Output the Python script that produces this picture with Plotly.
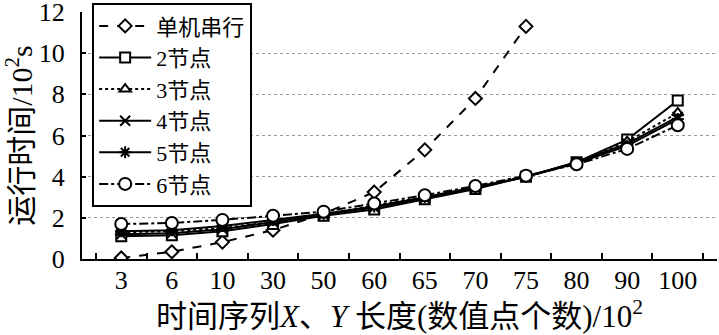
import plotly.graph_objects as go

categories = ["3", "6", "10", "30", "50", "60", "65", "70", "75", "80", "90", "100"]
serial_cats = ["3", "6", "10", "30", "50", "60", "65", "70", "75"]
serial = [0.05, 0.35, 0.82, 1.4, 2.2, 3.25, 5.3, 7.8, 11.3]
node2 = [1.1, 1.15, 1.35, 1.7, 2.1, 2.4, 2.9, 3.4, 4.0, 4.7, 5.8, 7.7]
node3 = [1.3, 1.35, 1.5, 1.8, 2.15, 2.6, 3.0, 3.45, 4.0, 4.65, 5.7, 7.1]
node4 = [1.2, 1.25, 1.45, 1.8, 2.15, 2.5, 2.95, 3.45, 4.0, 4.7, 5.6, 6.9]
node5 = [1.35, 1.4, 1.6, 1.9, 2.2, 2.55, 3.0, 3.5, 4.0, 4.65, 5.5, 6.8]
node6 = [1.7, 1.75, 1.9, 2.1, 2.3, 2.7, 3.1, 3.55, 4.05, 4.6, 5.35, 6.5]
names = ["单机串行", "2节点", "3节点", "4节点", "5节点", "6节点"]
y_ticks = [0, 2, 4, 6, 8, 10, 12]

FONT = "serif, Noto Sans CJK SC"

series = [
    (serial_cats, serial, names[0], "dash", "diamond"),
    (categories, node2, names[1], "solid", "square"),
    (categories, node3, names[2], "dot", "triangle-up"),
    (categories, node4, names[3], "solid", "x-thin-open"),
    (categories, node5, names[4], "solid", "asterisk-open"),
    (categories, node6, names[5], "dashdot", "circle"),
]

fig = go.Figure()
for xs, ys, name, dash, sym in series:
    open_sym = sym.endswith("-open")
    fig.add_trace(go.Scatter(
        x=xs, y=ys, name=name, mode="lines+markers",
        line=dict(color="black", width=2, dash=dash),
        marker=dict(symbol=sym, size=10 if sym != "circle" else 12,
                    color="black" if open_sym else "white",
                    line=dict(color="black", width=2)),
    ))

fig.update_layout(
    width=719, height=335,
    margin=dict(l=82, r=2, t=12, b=76, autoexpand=False),
    paper_bgcolor="white", plot_bgcolor="white",
    font=dict(family=FONT, size=26, color="black"),
    showlegend=True,
    legend=dict(
        x=0.016, y=1.036, xanchor="left", yanchor="top",
        bordercolor="black", borderwidth=2, bgcolor="white",
        font=dict(family=FONT, size=22, color="black"),
        tracegroupgap=0, itemwidth=52, maxheight=320,
    ),
)
fig.update_xaxes(
    type="category", categoryorder="array", categoryarray=categories,
    showline=True, linecolor="black", linewidth=2,
    ticks="inside", tickson="boundaries", ticklen=6, tickcolor="black", tickwidth=2,
    showgrid=False, zeroline=False, ticklabelstandoff=-3,
    tickfont=dict(family=FONT, size=26),
    title=dict(text="时间序列<i>X</i>、<i>Y</i> 长度(数值点个数)/10<sup>2</sup>",
               font=dict(family=FONT, size=31), standoff=8),
)
fig.update_yaxes(
    range=[0, 12], tickvals=y_ticks, ticklabeloverflow="allow",
    showline=True, linecolor="black", linewidth=2,
    ticks="inside", ticklen=4, tickcolor="black", tickwidth=1.5,
    showgrid=True, gridcolor="#999999", griddash="dot", gridwidth=1,
    zeroline=False, ticklabelstandoff=10,
    tickfont=dict(family=FONT, size=26),
    title=dict(text="运行时间/10<sup>2</sup>s", font=dict(family=FONT, size=30), standoff=0),
)

fig.write_html("out.html", config={"displayModeBar": False},
               post_script="document.body.style.margin='0px';")
